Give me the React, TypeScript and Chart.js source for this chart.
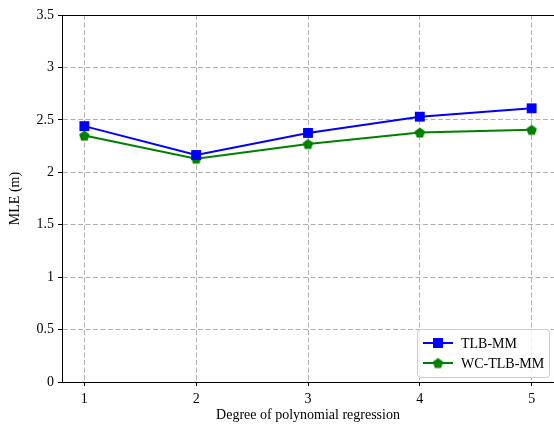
import { useEffect, useRef } from "react";
import { Chart, registerables } from "chart.js";

Chart.register(...registerables);

const degrees = [1, 2, 3, 4, 5];
const tlbMM = [2.44, 2.165, 2.375, 2.53, 2.61];
const wcTlbMM = [2.35, 2.13, 2.27, 2.38, 2.405];
const seriesNames = ["TLB-MM", "WC-TLB-MM"];
const xTicks = [1, 2, 3, 4, 5];
const yTicks = [0, 0.5, 1, 1.5, 2, 2.5, 3, 3.5];
const xTitle = "Degree of polynomial regression";
const yTitle = "MLE (m)";

const FONT = '"Liberation Serif", "Times New Roman", Times, serif';
const BLUE = "#0000ff";
const GREEN = "#008000";

function makePentagon(color: string, r: number) {
  const c = document.createElement("canvas");
  const s = Math.ceil(r * 2 + 2);
  c.width = s;
  c.height = s;
  const ctx = c.getContext("2d")!;
  ctx.fillStyle = color;
  ctx.beginPath();
  for (let i = 0; i < 5; i++) {
    const a = -Math.PI / 2 + (i * 2 * Math.PI) / 5;
    const px = s / 2 + r * Math.cos(a);
    const py = s / 2 + 0.5 + r * Math.sin(a);
    if (i === 0) ctx.moveTo(px, py);
    else ctx.lineTo(px, py);
  }
  ctx.closePath();
  ctx.fill();
  return c;
}

export default function App() {
  const ref = useRef<HTMLCanvasElement | null>(null);

  useEffect(() => {
    const canvas = ref.current;
    if (!canvas) return;
    const pent = makePentagon(GREEN, 5.5);

    const topBorder = {
      id: "topBorder",
      beforeDatasetsDraw(chart: any) {
        const { ctx, chartArea: a } = chart;
        ctx.save();
        ctx.strokeStyle = "#000";
        ctx.lineWidth = 1;
        ctx.beginPath();
        ctx.moveTo(a.left, a.top + 0.5);
        ctx.lineTo(a.right, a.top + 0.5);
        ctx.stroke();
        ctx.restore();
      },
    };

    const legendBox = {
      id: "legendBox",
      afterDraw(chart: any) {
        const { ctx, chartArea: a } = chart;
        const w = 132;
        const h = 48;
        const x0 = a.right - 5 - w;
        const y0 = a.bottom - 5 - h;
        ctx.save();
        ctx.beginPath();
        ctx.roundRect(x0 + 0.5, y0 + 0.5, w, h, 3);
        ctx.fillStyle = "rgba(255,255,255,0.8)";
        ctx.fill();
        ctx.strokeStyle = "#cccccc";
        ctx.lineWidth = 1;
        ctx.stroke();
        const rows = [
          { label: seriesNames[0], color: BLUE, marker: "rect" },
          { label: seriesNames[1], color: GREEN, marker: "pent" },
        ];
        rows.forEach((r, i) => {
          const cy = y0 + 14 + i * 20;
          const lx0 = x0 + 6;
          const lx1 = x0 + 36;
          ctx.strokeStyle = r.color;
          ctx.lineWidth = 2;
          ctx.beginPath();
          ctx.moveTo(lx0, cy);
          ctx.lineTo(lx1, cy);
          ctx.stroke();
          const mx = (lx0 + lx1) / 2;
          if (r.marker === "rect") {
            ctx.fillStyle = r.color;
            ctx.fillRect(mx - 5, cy - 5, 10, 10);
          } else {
            ctx.drawImage(pent, mx - pent.width / 2, cy - pent.height / 2);
          }
          ctx.fillStyle = "#000";
          ctx.font = `14px ${FONT}`;
          ctx.textBaseline = "middle";
          ctx.textAlign = "left";
          ctx.fillText(r.label, x0 + 44, cy + 1);
        });
        ctx.restore();
      },
    };

    const chart = new Chart(canvas, {
      type: "line",
      data: {
        datasets: [
          {
            label: seriesNames[0],
            data: degrees.map((d, i) => ({ x: d, y: tlbMM[i] })),
            borderColor: BLUE,
            backgroundColor: BLUE,
            borderWidth: 2,
            pointStyle: "rect",
            pointRadius: 7,
            pointHoverRadius: 7,
            pointBorderWidth: 0,
            tension: 0,
          },
          {
            label: seriesNames[1],
            data: degrees.map((d, i) => ({ x: d, y: wcTlbMM[i] })),
            borderColor: GREEN,
            backgroundColor: GREEN,
            borderWidth: 2,
            pointStyle: pent as any,
            pointRadius: 6,
            pointHoverRadius: 6,
            pointBorderWidth: 0,
            tension: 0,
          },
        ],
      },
      options: {
        responsive: false,
        animation: false,
        layout: { autoPadding: false, padding: { top: 15, right: 0, left: 0, bottom: 0 } },
        plugins: {
          legend: { display: false },
          tooltip: { enabled: false },
        },
        scales: {
          x: {
            type: "linear",
            min: 0.8,
            max: 5.2,
            afterBuildTicks: (s: any) => {
              s.ticks = xTicks.map((v) => ({ value: v }));
            },
            afterFit: (s: any) => {
              s.height = 48;
              s.paddingLeft = 0;
              s.paddingRight = 0;
            },
            grid: {
              color: "#b0b0b0",
              lineWidth: 1,
              tickLength: 4,
              tickColor: "#000",
              tickWidth: 1,
            },
            border: { display: true, color: "#000", width: 1, dash: [5, 2.5] },
            ticks: {
              color: "#000",
              font: { family: FONT, size: 14 },
              padding: 5,
              callback: (v: any) => String(v),
              maxRotation: 0,
            },
            title: {
              display: true,
              text: xTitle,
              color: "#000",
              font: { family: FONT, size: 14 },
              padding: { top: 0, bottom: 6 },
            },
          },
          y: {
            type: "linear",
            min: 0,
            max: 3.5,
            afterBuildTicks: (s: any) => {
              s.ticks = yTicks.map((v) => ({ value: v }));
            },
            afterFit: (s: any) => {
              s.width = 62;
              s.paddingTop = 0;
              s.paddingBottom = 0;
            },
            grid: {
              color: "#b0b0b0",
              lineWidth: 1,
              tickLength: 4,
              tickColor: "#000",
              tickWidth: 1,
            },
            border: { display: true, color: "#000", width: 1, dash: [5, 2.5] },
            ticks: {
              color: "#000",
              font: { family: FONT, size: 14 },
              padding: 4,
              callback: (v: any) => String(v),
            },
            title: {
              display: true,
              text: yTitle,
              color: "#000",
              font: { family: FONT, size: 14 },
              padding: { top: 6.6, bottom: 0 },
            },
          },
        },
      },
      plugins: [topBorder, legendBox],
    });

    return () => chart.destroy();
  }, []);

  return (
    <div style={{ position: "absolute", left: 0, top: 0, width: 554, height: 430, background: "#fff" }}>
      <canvas ref={ref} width={554} height={430} />
    </div>
  );
}
